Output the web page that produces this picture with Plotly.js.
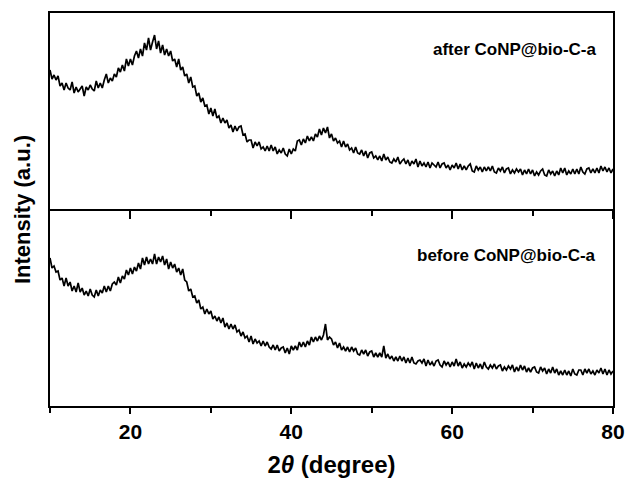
<!DOCTYPE html>
<html>
<head>
<meta charset="utf-8">
<script src="https://cdn.plot.ly/plotly-3.0.1.min.js"></script>
<style>html,body{margin:0;padding:0;background:#fff;}#chart{width:628px;height:484px;}</style>
</head>
<body>
<div id="chart"></div>
<script>
// 2-theta grid: start and step (degrees)
const thetaStart = 10;
const thetaStep = 0.25;
// Intensity (a.u.), one value per 0.25 degree from 10 to 80
const afterIntensity = [
139,130,134,129, 133,123,126,119, 126,121,119,127, 116,122,117,120, 123,113,122,119,
124,120,118,128, 121,126,121,129, 135,126,131,128, 135,132,141,137, 144,138,150,143,
150,144,153,158, 151,160,153,166, 159,171,159,167, 174,160,168,156, 164,154,160,153,
158,148,150,142, 150,139,142,133, 135,126,132,122, 123,113,116,107, 111,103,104,95,
101,93,100,91, 93,86,91,86, 89,81,84,77, 83,78,82,83, 74,75,67,69,
69,61,67,63, 67,60,62,58, 63,58,64,58, 62,55,59,56, 61,55,53,60,
55,60,58,68, 69,64,70,66, 73,68,72,68, 75,72,80,74, 81,76,82,71,
75,68,71,66, 68,62,68,62, 65,59,61,56, 62,56,55,59, 53,58,51,56,
57,51,53,49, 53,48,55,49, 52,47,46,50, 47,52,45,48, 50,45,49,43,
48,45,50,42, 48,43,46,42, 47,41,46,44, 42,47,41,45, 46,41,44,39,
44,41,46,40, 45,39,43,39, 43,45,38,37, 43,39,42,37, 42,38,42,38,
43,37,36,41, 38,42,36,40, 41,35,39,36, 40,37,40,34, 39,35,40,35,
39,33,37,34, 38,40,34,33, 39,35,38,33, 38,34,41,36, 41,34,38,35,
40,35,40,35, 42,37,35,40, 41,36,40,36, 41,36,43,38, 42,37,41,36,
40
];
const beforeIntensity = [
148,138,140,134, 135,126,128,120, 128,120,124,115, 120,114,123,114, 118,111,115,110,
117,111,109,116, 110,116,113,120, 114,120,115,122, 124,121,129,123, 130,127,136,131,
138,132,139,135, 143,137,148,141, 149,142,147,142, 152,142,149,144, 150,141,147,137,
144,138,142,134, 138,131,137,126, 124,115,117,109, 110,103,106,97, 99,92,97,92,
95,87,90,85, 89,83,88,79, 83,77,82,77, 81,74,76,70, 74,68,70,64,
70,62,67,63, 65,60,65,60, 64,59,57,61, 56,61,55,58, 59,53,58,52,
60,56,60,56, 64,59,64,59, 65,61,69,64, 69,65,70,66, 71,82,66,69,
67,61,64,58, 63,56,59,55, 59,54,59,55, 58,52,51,56, 52,56,50,54,
55,49,53,49, 53,49,60,48, 52,47,50,45, 49,45,50,45, 49,43,48,43,
49,43,42,45, 46,43,47,40, 46,41,44,40, 45,46,41,39, 45,41,44,39,
44,40,47,40, 44,38,42,39, 43,40,44,37, 43,38,42,37, 44,39,37,41,
38,42,37,40, 41,35,39,36, 40,37,41,34, 39,35,41,36, 40,34,38,34,
38,39,34,33, 39,35,38,32, 37,33,39,33, 37,31,35,31, 36,31,35,30,
37,32,31,36, 36,31,37,33, 37,32,35,31, 36,33,38,32, 37,31,36,32,
35
];
const sampleLabels = ["after CoNP@bio-C-a", "before CoNP@bio-C-a"];
const tickValues = [20, 40, 60, 80];
const tickLabels = ["20", "40", "60", "80"];

const FONT = "Liberation Sans, Arial, Helvetica, sans-serif";
const traces = [
  {x0: thetaStart, dx: thetaStep, y: beforeIntensity, type: "scatter", mode: "lines",
   line: {color: "#000", width: 1.7}, xaxis: "x", yaxis: "y", hoverinfo: "skip"},
  {x0: thetaStart, dx: thetaStep, y: afterIntensity, type: "scatter", mode: "lines",
   line: {color: "#000", width: 1.7}, xaxis: "x2", yaxis: "y2", hoverinfo: "skip"}
];
const layout = {
  width: 628, height: 484,
  margin: {l: 50, r: 15, t: 13, b: 78},
  paper_bgcolor: "#fff", plot_bgcolor: "#fff",
  showlegend: false,
  font: {family: FONT, color: "#000"},
  xaxis: {
    domain: [0, 1], anchor: "y", range: [10, 80],
    showline: true, linecolor: "#000", linewidth: 2, mirror: false,
    showgrid: false, zeroline: false,
    ticks: "outside", ticklen: 6, tickwidth: 2, tickcolor: "#000",
    tickmode: "array", tickvals: tickValues, ticktext: tickLabels,
    minor: {tickmode: "array", tickvals: [10, 30, 50, 70], ticks: "outside", ticklen: 5, tickwidth: 2, tickcolor: "#000", showgrid: false},
    tickfont: {family: FONT, size: 21, weight: "bold", color: "#000"},
    title: {text: "2<i>θ</i> (degree)", font: {family: FONT, size: 24, weight: "bold", color: "#000"}, standoff: 14}
  },
  xaxis2: {
    domain: [0, 1], anchor: "y2", matches: "x", range: [10, 80],
    showline: true, linecolor: "#000", linewidth: 2, mirror: true,
    showgrid: false, zeroline: false,
    ticks: "outside", ticklen: 8, tickwidth: 2, tickcolor: "#000",
    tickmode: "array", tickvals: tickValues, showticklabels: false,
    minor: {tickmode: "array", tickvals: [30, 50, 70], ticks: "outside", ticklen: 5, tickwidth: 2, tickcolor: "#000", showgrid: false}
  },
  yaxis: {
    domain: [0, 0.4987], anchor: "x", range: [0, 196],
    showline: true, linecolor: "#000", linewidth: 2, mirror: true,
    showgrid: false, zeroline: false, ticks: "", showticklabels: false
  },
  yaxis2: {
    domain: [0.5013, 1], anchor: "x2", range: [0, 196],
    showline: true, linecolor: "#000", linewidth: 2, mirror: true,
    showgrid: false, zeroline: false, ticks: "", showticklabels: false
  },
  annotations: [
    {text: sampleLabels[0], xref: "paper", yref: "paper", x: 0.975, y: 0.906,
     xanchor: "right", yanchor: "middle", showarrow: false,
     font: {family: FONT, size: 17, weight: "bold", color: "#000"}},
    {text: sampleLabels[1], xref: "paper", yref: "paper", x: 0.973, y: 0.384,
     xanchor: "right", yanchor: "middle", showarrow: false,
     font: {family: FONT, size: 17, weight: "bold", color: "#000"}},
    {text: "Intensity (a.u.)", xref: "paper", yref: "paper", x: -0.0497, y: 0.4987,
     xanchor: "center", yanchor: "middle", textangle: -90, showarrow: false,
     font: {family: FONT, size: 22, weight: "bold", color: "#000"}}
  ]
};
Plotly.newPlot("chart", traces, layout, {staticPlot: true, displayModeBar: false});
</script>
</body>
</html>
